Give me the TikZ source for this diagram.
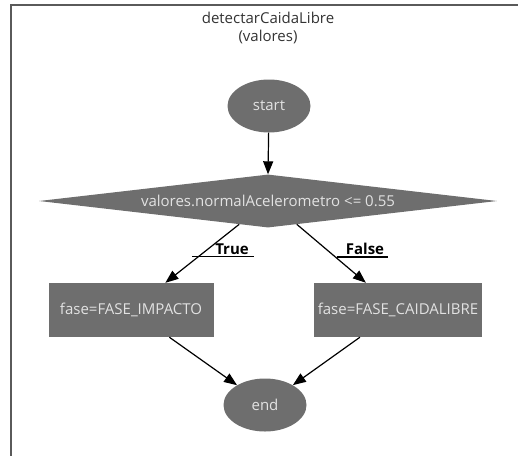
\documentclass[tikz,border=0pt]{standalone}
\usepackage{fontspec}
\setmainfont{Open Sans}
\usetikzlibrary{arrows.meta, shapes.geometric, positioning}
\definecolor{boxGray}{RGB}{110,110,110}
\definecolor{txtGray}{RGB}{226,226,226}
\definecolor{frameGray}{RGB}{90,90,90}
\tikzstyle{flow_arrow}=[line width=1.2pt, -{Triangle[length=13pt,width=10pt]}]

\begin{document}
\begin{tikzpicture}[x=1pt, y=-1pt]
			\tikzset{terminal/.style = {shape=ellipse, fill=boxGray, text=txtGray, minimum width=83pt, minimum height=53pt, inner sep=0pt, font=\fontsize{15}{17}\selectfont}}
			\tikzset{decision/.style = {shape=diamond, aspect=8.8, fill=boxGray, text=txtGray, minimum width=458pt, minimum height=53pt, inner sep=0pt, font=\fontsize{15}{17}\selectfont}}
			\tikzset{process/.style = {shape=rectangle, fill=boxGray, text=txtGray, minimum width=165pt, minimum height=54pt, font=\fontsize{15}{17}\selectfont}}
			\tikzset{edge/.style = {flow_arrow, black}}
			\tikzset{branch/.style = {font=\fontsize{15}{17}\selectfont\bfseries, inner sep=1pt}}
			\tikzset{underline/.style = {line width=1.2pt, black}}
			\useasboundingbox (0,0) rectangle (518,456);
			% frame
			\draw[frameGray, line width=2pt] (518,5) -- (10.5,5) -- (10.5,456);
			\node[align=center, text=black!80, font=\fontsize{15}{18}\selectfont] (title) at (268,28) {detectarCaidaLibre\\(valores)};

			% vertices
			\node[terminal] (start) at (269,106) {start};
			\node[decision] (cond) at (268,201) {valores.normalAcelerometro <= 0.55};
			\node[process] (impacto) at (131,310) {fase=FASE\_IMPACTO};
			\node[process] (caida) at (398,310) {fase=FASE\_CAIDALIBRE};
			\node[terminal] (end) at (265,405) {end};

			% branch labels
			\node[branch] (t) at (232,249) {True};
			\node[branch] (f) at (365,249) {False};

			%edges
			\draw[edge] (start) to (cond.north);
			\draw[edge] (cond.219) to (impacto);
			\draw[edge] (cond.321) to (caida);
			\draw[edge] (impacto) to (end);
			\draw[edge] (caida) to (end);
			\draw[underline] ([xshift=-22pt, yshift=-1pt]t.south west) -- ([xshift=4pt, yshift=-1pt]t.south east);
			\draw[underline] ([xshift=-8pt, yshift=-1pt]f.south west) -- ([xshift=3pt, yshift=-1pt]f.south east);
\end{tikzpicture}
\end{document}
